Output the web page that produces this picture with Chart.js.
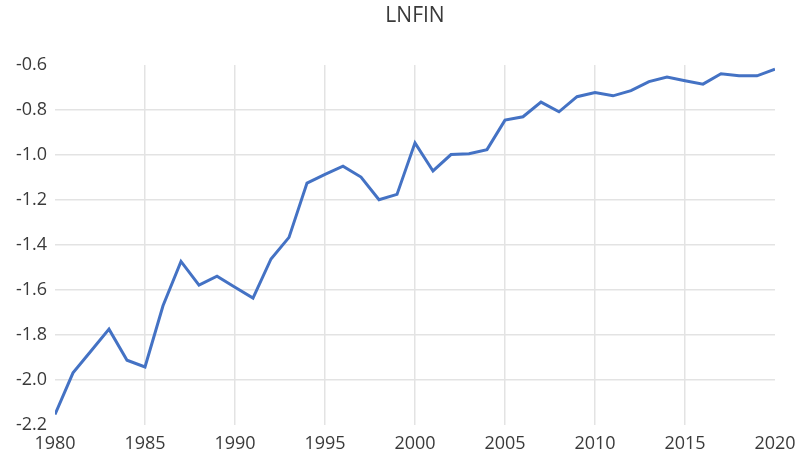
<!DOCTYPE html>
<html>
<head>
<meta charset="utf-8">
<title>LNFIN</title>
<script src="https://cdn.jsdelivr.net/npm/chart.js@4/dist/chart.umd.min.js"></script>
<style>
  html, body { margin: 0; padding: 0; background: #fff; }
  #wrap { width: 797px; height: 462px; }
</style>
</head>
<body>
<div id="wrap"><canvas id="lnfinChart" width="797" height="462"></canvas></div>
<script>
// Series
const years = [
  1980, 1981, 1982, 1983, 1984, 1985, 1986, 1987, 1988, 1989,
  1990, 1991, 1992, 1993, 1994, 1995, 1996, 1997, 1998, 1999,
  2000, 2001, 2002, 2003, 2004, 2005, 2006, 2007, 2008, 2009,
  2010, 2011, 2012, 2013, 2014, 2015, 2016, 2017, 2018, 2019, 2020
];
const lnfin = [
  -2.153, -1.968, -1.871, -1.774, -1.912, -1.942, -1.670, -1.473, -1.578, -1.539,
  -1.588, -1.636, -1.462, -1.366, -1.125, -1.086, -1.050, -1.098, -1.199, -1.175,
  -0.946, -1.071, -0.998, -0.994, -0.976, -0.845, -0.830, -0.765, -0.808, -0.741,
  -0.722, -0.737, -0.714, -0.674, -0.654, -0.670, -0.685, -0.639, -0.648, -0.648, -0.619
];

const titleText = "LNFIN";
const FONT = "'Open Sans', 'Liberation Sans', sans-serif";
const TEXT_COLOR = "#3a3a3a";
const GRID_COLOR = "#e3e3e3";

// title centred over the plot area
const titlePlugin = {
  id: 'plotTitle',
  afterDraw(chart) {
    const { ctx, chartArea } = chart;
    ctx.save();
    ctx.font = "21px " + FONT;
    ctx.fillStyle = TEXT_COLOR;
    ctx.textAlign = 'center';
    ctx.textBaseline = 'middle';
    ctx.fillText(titleText, (chartArea.left + chartArea.right) / 2, 16);
    ctx.restore();
  }
};

// no grid line on the outer ticks
function innerGrid(ctx) {
  const n = ctx.scale.ticks.length;
  return (ctx.index === 0 || ctx.index === n - 1) ? 'rgba(0,0,0,0)' : GRID_COLOR;
}

new Chart(document.getElementById("lnfinChart"), {
  type: 'line',
  data: {
    datasets: [{
      label: titleText,
      data: years.map((y, i) => ({ x: y, y: lnfin[i] })),
      borderColor: '#4472C4',
      borderWidth: 3,
      pointRadius: 0,
      tension: 0,
      fill: false
    }]
  },
  options: {
    responsive: false,
    animation: false,
    layout: { padding: { top: 65, right: 22, left: 0, bottom: 0 } },
    plugins: {
      legend: { display: false },
      title: { display: false },
      tooltip: { enabled: false }
    },
    scales: {
      x: {
        type: 'linear',
        min: 1980,
        max: 2020,
        ticks: {
          stepSize: 5,
          color: TEXT_COLOR,
          font: { family: FONT, size: 18 },
          padding: 8,
          maxRotation: 0,
          callback: v => String(v)
        },
        grid: { color: innerGrid, lineWidth: 1.5, drawTicks: false },
        border: { display: false },
        afterFit(scale) {
          scale.height = 37;
          scale.paddingLeft = 0;
          scale.paddingRight = 0;
        }
      },
      y: {
        min: -2.2,
        max: -0.6,
        ticks: {
          stepSize: 0.2,
          color: TEXT_COLOR,
          font: { family: FONT, size: 18 },
          padding: 8,
          callback: v => v.toFixed(1)
        },
        grid: { color: innerGrid, lineWidth: 1.5, drawTicks: false },
        border: { display: false },
        afterFit(scale) { scale.width = 55; }
      }
    }
  },
  plugins: [titlePlugin]
});
</script>
</body>
</html>
